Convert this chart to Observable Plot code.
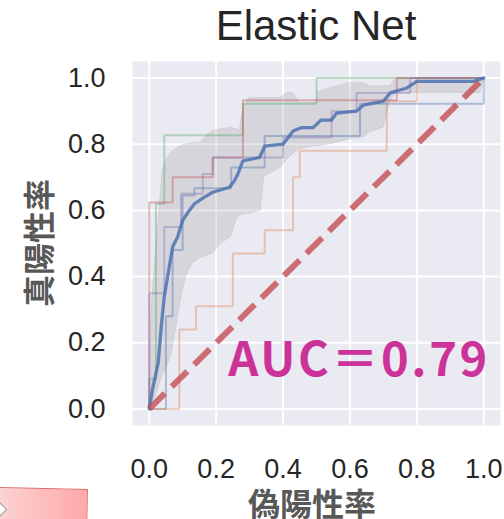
<!DOCTYPE html>
<html><head><meta charset="utf-8">
<script src="https://cdn.jsdelivr.net/npm/d3@7"></script>
<script src="https://cdn.jsdelivr.net/npm/@observablehq/plot@0.6"></script>
<style>
html,body{margin:0;padding:0;background:#fff;overflow:hidden;}
#wrap{position:relative;width:504px;height:519px;overflow:hidden;}
#chart{position:absolute;left:0;top:0;}
.title{position:absolute;left:132px;width:368px;top:5px;text-align:center;font-family:"Liberation Sans",Arial,sans-serif;font-size:42px;line-height:42px;color:#262626;}
.xlab{position:absolute;left:122px;width:380px;top:488px;height:28px;text-align:center;font-family:"Noto Sans CJK JP",sans-serif;font-weight:700;font-size:32px;line-height:28px;color:#585858;}
.ylab{position:absolute;left:-63px;width:200px;top:227px;height:32px;text-align:center;font-family:"Noto Sans CJK JP",sans-serif;font-weight:700;font-size:32px;line-height:32px;color:#585858;transform:rotate(-90deg);transform-origin:center center;}
.note{position:absolute;left:-3px;top:487px;width:89px;height:44px;background:linear-gradient(to right,#fcd3d3,#ffa8a8);border:1px solid #e06a6a;transform:rotate(1.2deg);transform-origin:left top;}
.note-mark{position:absolute;left:-6px;top:504px;width:9px;height:9px;background:#fff;border:1px solid #999;transform:rotate(45deg);}
</style></head>
<body><div id="wrap"><div id="chart"></div>
<div class="title">Elastic Net</div>
<div class="ylab">真陽性率</div>
<div class="xlab">偽陽性率</div>
<div class="note"></div><div class="note-mark"></div>
</div>
<script>
// tick values
const xTicks = [0, 0.2, 0.4, 0.6, 0.8, 1.0];
const yTicks = [0, 0.2, 0.4, 0.6, 0.8, 1.0];

// individual fold ROC curves (corner points)
const fold1Fpr = [0, 0.05, 0.05, 0.07, 0.07, 0.10, 0.10, 0.135, 0.135, 0.245, 0.245, 0.345, 0.345, 0.63, 0.63, 1.0, 1.0];
const fold1Tpr = [0, 0, 0.28, 0.28, 0.48, 0.48, 0.645, 0.645, 0.667, 0.667, 0.73, 0.73, 0.825, 0.825, 0.922, 0.922, 1.0];
const fold2Fpr = [0, 0.09, 0.09, 0.14, 0.14, 0.25, 0.25, 0.345, 0.345, 0.43, 0.43, 0.45, 0.45, 0.71, 0.71, 0.80, 0.80, 1.0];
const fold2Tpr = [0, 0, 0.24, 0.24, 0.31, 0.31, 0.47, 0.47, 0.54, 0.54, 0.70, 0.70, 0.78, 0.78, 0.93, 0.93, 1.0, 1.0];
const fold3Fpr = [0, 0, 0.02, 0.02, 0.045, 0.045, 0.28, 0.28, 0.50, 0.50, 1.0];
const fold3Tpr = [0, 0.09, 0.09, 0.62, 0.62, 0.827, 0.827, 0.922, 0.922, 1.0, 1.0];
const fold4Fpr = [0, 0, 0.07, 0.07, 0.19, 0.19, 0.28, 0.28, 0.74, 0.74, 1.0];
const fold4Tpr = [0, 0.624, 0.624, 0.70, 0.70, 0.76, 0.76, 0.933, 0.933, 1.0, 1.0];
const fold5Fpr = [0, 0, 0.045, 0.045, 0.095, 0.095, 0.16, 0.16, 0.19, 0.19, 0.40, 0.40, 0.545, 0.545, 0.62, 0.62, 0.78, 0.78, 1.0];
const fold5Tpr = [0, 0.35, 0.35, 0.55, 0.55, 0.65, 0.65, 0.71, 0.71, 0.76, 0.76, 0.82, 0.82, 0.90, 0.90, 0.955, 0.955, 1.0, 1.0];

// mean ROC curve
const meanFpr = [0, 0.01, 0.027, 0.036, 0.045, 0.055, 0.07, 0.085, 0.10, 0.12, 0.135, 0.165, 0.19, 0.24, 0.255, 0.265, 0.28, 0.33, 0.345, 0.40, 0.43, 0.454, 0.49, 0.513, 0.545, 0.56, 0.62, 0.64, 0.70, 0.72, 0.77, 0.80, 0.97, 1.0];
const meanTpr = [0, 0.06, 0.14, 0.25, 0.34, 0.40, 0.49, 0.52, 0.57, 0.60, 0.62, 0.64, 0.655, 0.67, 0.69, 0.71, 0.75, 0.76, 0.794, 0.80, 0.84, 0.85, 0.85, 0.873, 0.873, 0.894, 0.90, 0.918, 0.93, 0.955, 0.97, 0.99, 0.99, 1.0];

// ±1 std band
const bandFpr   = [0, 0.005, 0.01, 0.02, 0.03, 0.04, 0.05, 0.066, 0.08, 0.095, 0.11, 0.13, 0.155, 0.176, 0.19, 0.215, 0.245, 0.26, 0.27, 0.28, 0.295, 0.30, 0.334, 0.343, 0.36, 0.394, 0.41, 0.43, 0.45, 0.475, 0.50, 0.505, 0.543, 0.60, 0.64, 0.66, 0.70, 0.72, 0.74, 0.80, 0.90, 0.99, 1.0];
const bandUpper = [0, 0.25, 0.35, 0.47, 0.60, 0.72, 0.75, 0.776, 0.785, 0.795, 0.80, 0.803, 0.806, 0.83, 0.84, 0.845, 0.85, 0.845, 0.84, 0.90, 0.933, 0.94, 0.94, 0.94, 0.94, 0.94, 0.955, 0.955, 0.925, 0.925, 0.925, 0.957, 0.97, 0.985, 0.985, 0.975, 0.975, 0.975, 1, 1, 1, 1, 1];
const bandLower = [0, 0.01, 0.02, 0.04, 0.07, 0.10, 0.12, 0.16, 0.24, 0.33, 0.40, 0.44, 0.457, 0.464, 0.47, 0.50, 0.52, 0.57, 0.585, 0.587, 0.59, 0.59, 0.60, 0.70, 0.71, 0.73, 0.75, 0.77, 0.785, 0.79, 0.795, 0.795, 0.80, 0.815, 0.82, 0.836, 0.85, 0.93, 0.955, 0.955, 0.955, 0.955, 1.0];

// chance line
const chanceFpr = [0, 1];
const chanceTpr = [0, 1];

// annotation
const aucLabel = ["AUC＝0.79"];
const aucAt = [0.236, 0.145];

const foldColors = ["#4C72B0", "#DD8452", "#55A868", "#C44E52", "#8172B3"];
const folds = [[fold1Fpr, fold1Tpr], [fold2Fpr, fold2Tpr], [fold3Fpr, fold3Tpr], [fold4Fpr, fold4Tpr], [fold5Fpr, fold5Tpr]];

const rows = (xs, ys) => xs.map((x, i) => ({x, y: ys[i]}));
const bandRows = bandFpr.map((x, i) => ({x, lo: bandLower[i], hi: bandUpper[i]}));

const plot = Plot.plot({
  width: 504,
  height: 519,
  marginLeft: 132,
  marginRight: 4,
  marginTop: 61,
  marginBottom: 94,
  style: {fontFamily: "'Liberation Sans', Arial, sans-serif", fontSize: "27px", color: "#262626", background: "transparent"},
  x: {domain: [-0.05, 1.05], ticks: xTicks, tickFormat: d3.format(".1f"), tickSize: 0, tickPadding: 33, label: null},
  y: {domain: [-0.05, 1.05], ticks: yTicks, tickFormat: d3.format(".1f"), tickSize: 0, tickPadding: 27, label: null},
  marks: [
    Plot.frame({fill: "#EAEAF2", stroke: "none"}),
    Plot.gridX(xTicks, {stroke: "white", strokeOpacity: 1, strokeWidth: 2}),
    Plot.gridY(yTicks, {stroke: "white", strokeOpacity: 1, strokeWidth: 2}),
    Plot.areaY(bandRows, {x: "x", y1: "lo", y2: "hi", fill: "#808080", fillOpacity: 0.2, stroke: "#808080", strokeOpacity: 0.15, strokeWidth: 1}),
    ...folds.map(([f, t], i) => Plot.line(rows(f, t), {x: "x", y: "y", stroke: foldColors[i], strokeOpacity: 0.4, strokeWidth: 2, strokeLinejoin: "miter", strokeLinecap: "butt"})),
    Plot.line(rows(meanFpr, meanTpr), {x: "x", y: "y", stroke: "#4C72B0", strokeOpacity: 0.85, strokeWidth: 3.3}),
    Plot.line(rows(chanceFpr, chanceTpr), {x: "x", y: "y", stroke: "#C44E52", strokeOpacity: 0.8, strokeWidth: 6, strokeDasharray: "22,9.6", strokeLinecap: "butt"}),
    Plot.text(aucLabel, {x: () => aucAt[0], y: () => aucAt[1], text: d => d, textAnchor: "start", lineAnchor: "middle", fontSize: 47, fontWeight: 700, fontFamily: "'Noto Sans CJK JP', sans-serif", fill: "#CC3399"})
  ]
});
d3.select(plot).selectAll('g[aria-label="text"] text').style("letter-spacing", "2.6px");
document.getElementById("chart").appendChild(plot);
</script>
</body></html>
